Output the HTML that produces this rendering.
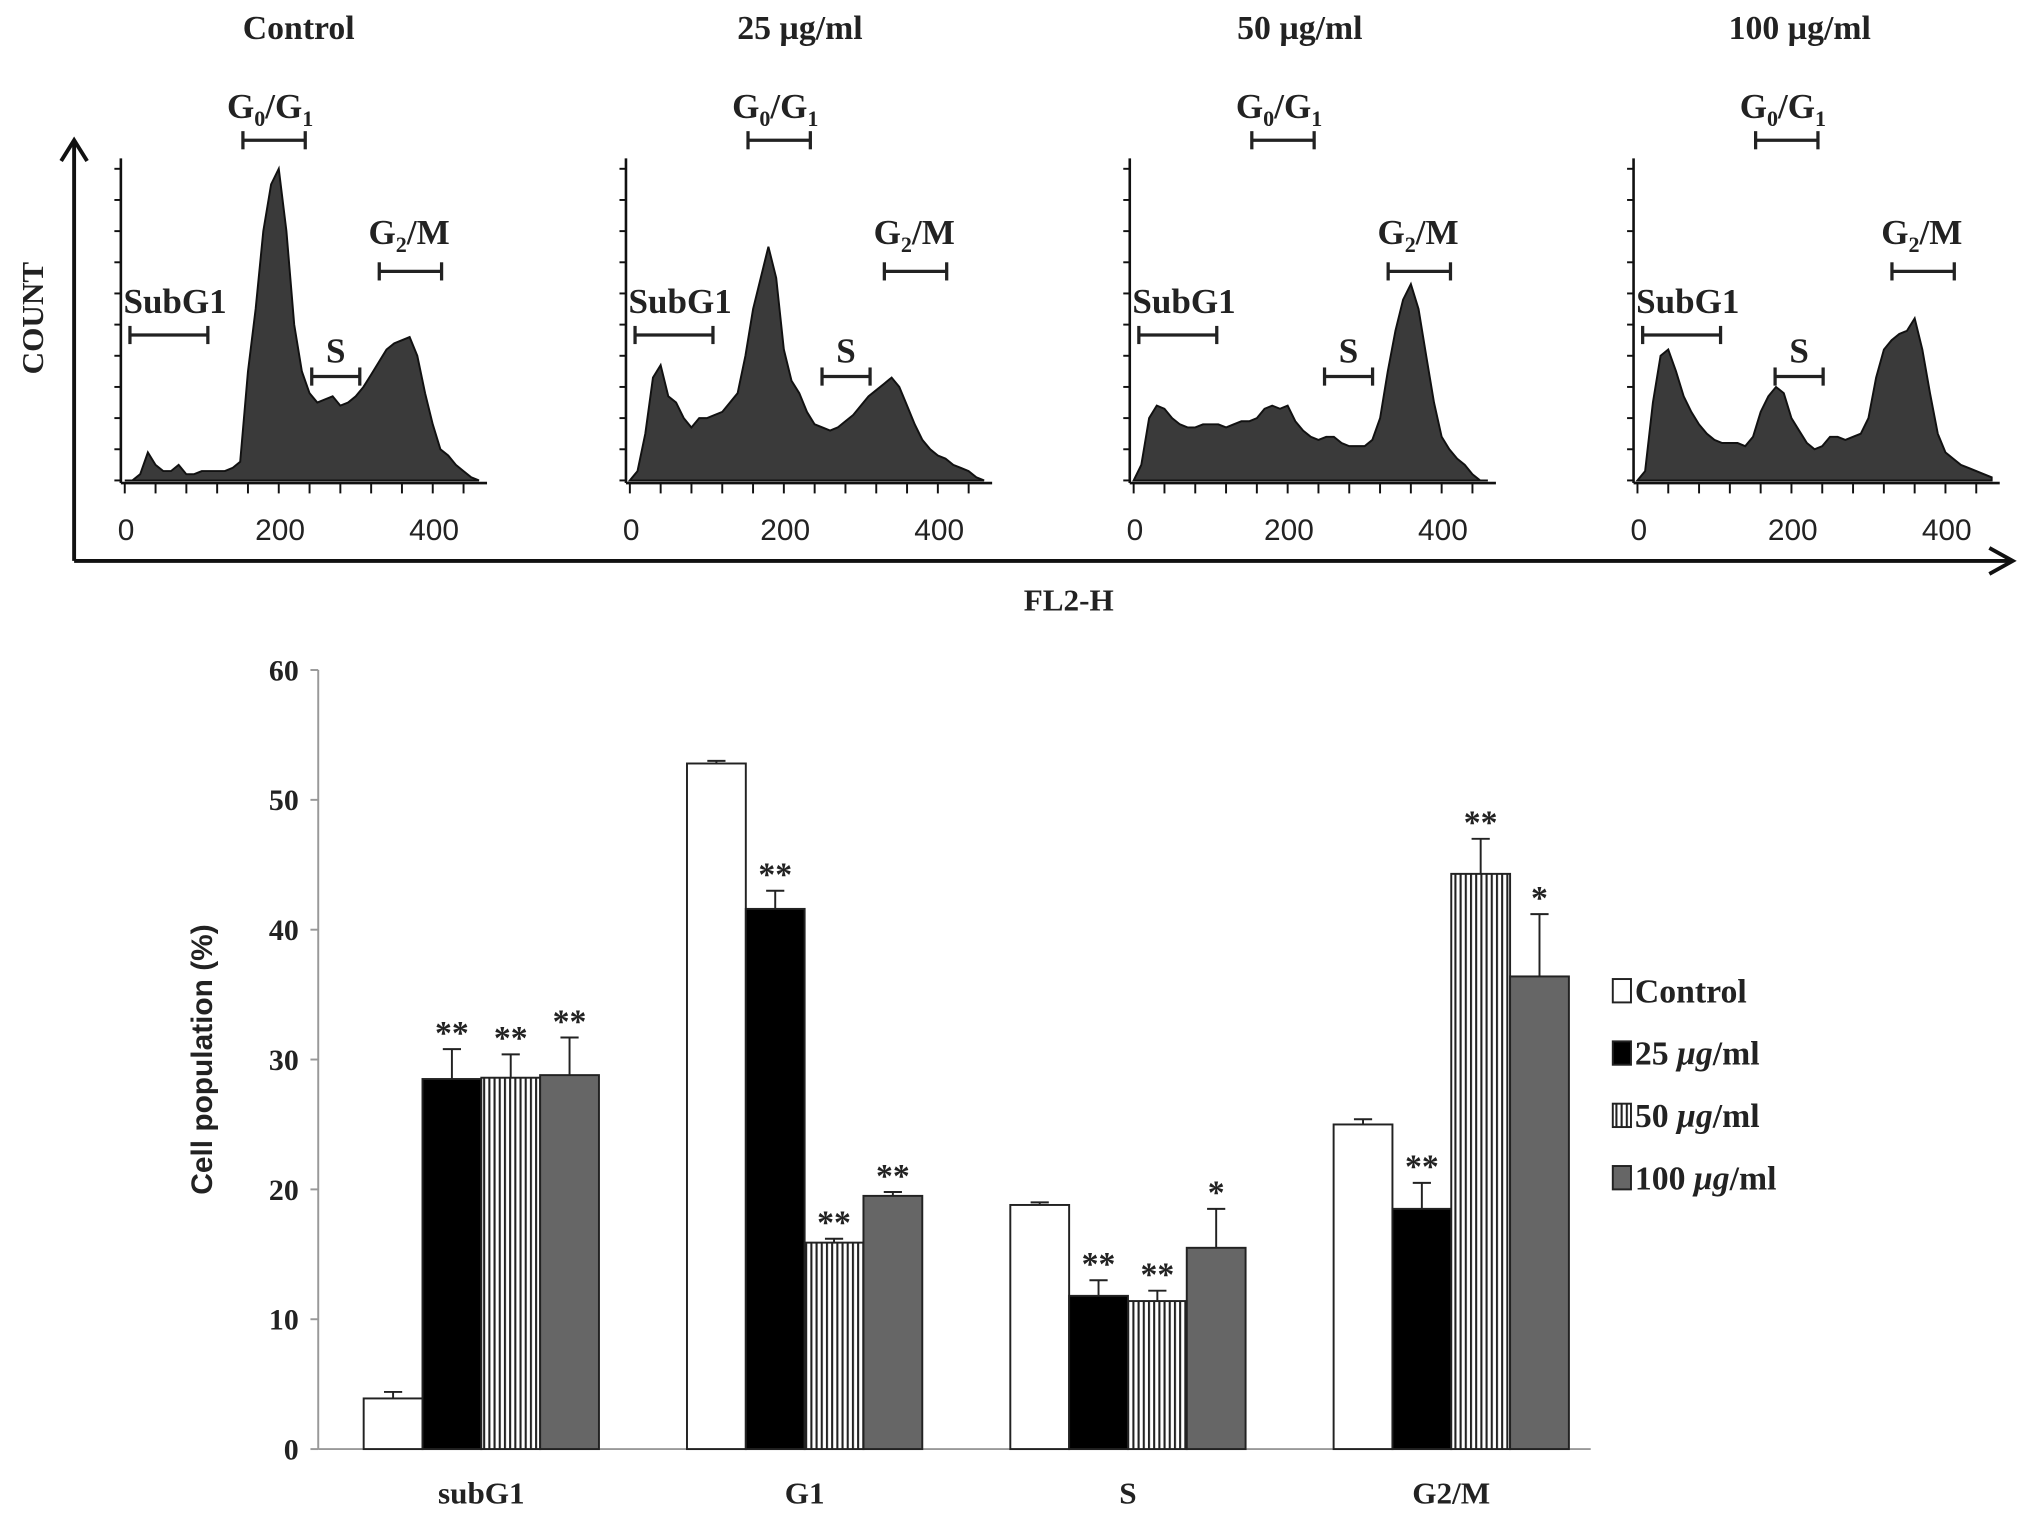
<!DOCTYPE html>
<html><head><meta charset="utf-8"><style>
html,body{margin:0;padding:0;background:#fff;}
svg{display:block;}
text{font-family:"Liberation Serif",serif;font-weight:bold;fill:#222;}
.sans{font-family:"Liberation Sans",sans-serif;}
</style></head><body>
<svg id="fig" width="2031" height="1514" viewBox="0 0 1564 1166" xmlns="http://www.w3.org/2000/svg"></svg>
<script>
// ---- histogram data (FL2-H bins every 10 units, 0..460; height as % of panel) ----
const binStart = 0, binStep = 10;
const panelTitles = ["Control", "25 µg/ml", "50 µg/ml", "100 µg/ml"];
const histControl = [0,0,2,9,5,3,3,5,2,2,3,3,3,3,4,6,35,55,80,95,100,80,50,35,28,25,26,27,24,25,27,30,34,38,42,44,45,46,40,28,18,10,8,5,3,1,0];
const hist25 = [0,3,15,33,37,27,25,20,17,20,20,21,22,25,28,40,55,65,75,65,42,32,28,22,18,17,16,17,19,21,24,27,29,31,33,30,24,18,13,10,8,7,5,4,3,1,0];
const hist50 = [0,5,20,24,23,20,18,17,17,18,18,18,17,18,19,19,20,23,24,23,24,19,16,14,13,14,14,12,11,11,11,13,20,35,48,58,63,55,40,25,14,10,7,5,2,0,0];
const hist100 = [0,3,25,40,42,35,27,22,18,15,13,12,12,12,11,14,22,27,30,28,20,16,12,10,11,14,14,13,14,15,20,33,42,45,47,48,52,42,28,15,9,7,5,4,3,2,1];
const histTicks = [0, 200, 400];
// ---- bar chart data ----
const phases = ["subG1", "G1", "S", "G2/M"];
const seriesNames = ["Control", "25 μg/ml", "50 μg/ml", "100 μg/ml"];
const valControl = [3.9, 52.8, 18.8, 25.0];
const val25 = [28.5, 41.6, 11.8, 18.5];
const val50 = [28.6, 15.9, 11.4, 44.3];
const val100 = [28.8, 19.5, 15.5, 36.4];
const errControl = [0.5, 0.2, 0.2, 0.4];
const err25 = [2.3, 1.4, 1.2, 2.0];
const err50 = [1.8, 0.3, 0.8, 2.7];
const err100 = [2.9, 0.3, 3.0, 4.8];
const sig25 = ["**", "**", "**", "**"];
const sig50 = ["**", "**", "**", "**"];
const sig100 = ["**", "**", "*", "*"];
const yTicks = [0, 10, 20, 30, 40, 50, 60];

const NS = "http://www.w3.org/2000/svg";
const svg = document.getElementById("fig");
function mk(tag, attrs, parent, txt) {
  const e = document.createElementNS(NS, tag);
  for (const k in attrs) e.setAttribute(k, attrs[k]);
  if (txt !== undefined) e.textContent = txt;
  (parent || svg).appendChild(e);
  return e;
}
const defs = mk("defs", {});
const pat = mk("pattern", {id: "vstripe", width: 4, height: 10, patternUnits: "userSpaceOnUse"}, defs);
mk("rect", {width: 4, height: 10, fill: "#fff"}, pat);
mk("rect", {x: 0, width: 1.6, height: 10, fill: "#222"}, pat);

// ===== Top: histograms =====
const big = mk("g", {});


mk("line", {x1: 57, y1: 110, x2: 57, y2: 432, stroke: "#111", "stroke-width": 3}, big);
mk("polyline", {points: "47,124 57,108 67,124", fill: "none", stroke: "#111", "stroke-width": 3}, big);
mk("line", {x1: 57, y1: 432, x2: 1548, y2: 432, stroke: "#111", "stroke-width": 3}, big);
mk("polyline", {points: "1532,422 1550,432 1532,442", fill: "none", stroke: "#111", "stroke-width": 3}, big);
const ct = mk("text", {x: 0, y: 0, "font-size": 24, "text-anchor": "middle", transform: "translate(33,245) rotate(-90)"}, svg, "COUNT");


const fl = mk("text", {x: 823, y: 470, "font-size": 24, "text-anchor": "middle"}, svg, "FL2-H");



const hists = [histControl, hist25, hist50, hist100];
const offsets = [0, 389, 777, 1165];
const sRel = [[240, 277], [244, 281], [243, 280], [202, 239]];
const baseY = 370, hScale = 2.4;
function hx(v, ox) { return 96 + ox + v * 0.593; }
function hy(p) { return baseY - p * hScale; }
function bracket(g, x1, x2, y) {
  mk("line", {x1: x1, y1: y, x2: x2, y2: y, stroke: "#222", "stroke-width": 2.5}, g);
  mk("line", {x1: x1, y1: y - 7, x2: x1, y2: y + 7, stroke: "#222", "stroke-width": 2.5}, g);
  mk("line", {x1: x2, y1: y - 7, x2: x2, y2: y + 7, stroke: "#222", "stroke-width": 2.5}, g);
}
hists.forEach((h, i) => {
  const ox = offsets[i];
  const g = mk("g", {});
  
  
  const t = mk("text", {x: 230 + ox - (i === 0 ? 0 : i * 3), y: 30, "font-size": 26, "text-anchor": "middle"}, g, panelTitles[i]);
  
  
  mk("line", {x1: 93 + ox, y1: 122, x2: 93 + ox, y2: 372, stroke: "#111", "stroke-width": 2}, g);
  mk("line", {x1: 93 + ox, y1: 372, x2: 375 + ox, y2: 372, stroke: "#111", "stroke-width": 2}, g);
  for (let k = 0; k <= 10; k++) {
    const yy = 130 + k * 24;
    mk("line", {x1: 88 + ox, y1: yy, x2: 93 + ox, y2: yy, stroke: "#111", "stroke-width": 1.5}, g);
  }
  for (let v = 0; v <= 460; v += 40) {
    mk("line", {x1: hx(v, ox), y1: 372, x2: hx(v, ox), y2: 380, stroke: "#111", "stroke-width": 1.5}, g);
  }
  histTicks.forEach(v => {
    const tl = mk("text", {x: hx(v, ox) + 1, y: 416, "font-size": 23, "text-anchor": "middle", class: "sans", style: "font-weight:normal"}, g, String(v));
    
    
  });
  let d = "M" + hx(binStart, ox) + "," + baseY;
  h.forEach((p, j) => {
    const v = binStart + j * binStep;
    d += " L" + hx(v, ox).toFixed(1) + "," + hy(p).toFixed(1);
  });
  d += " L" + hx(binStart + (h.length - 1) * binStep, ox) + "," + baseY + " Z";
  const area = mk("path", {d: d, fill: "#3a3a3a", stroke: "#111", "stroke-width": 1.5}, g);
  
  
  bracket(g, 187 + ox, 235 + ox, 108);
  const l1 = mk("text", {x: 208 + ox, y: 91, "font-size": 27, "text-anchor": "middle"}, g);
  mk("tspan", {}, l1, "G");
  mk("tspan", {"font-size": 17, dy: 6}, l1, "0");
  mk("tspan", {dy: -6}, l1, "/G");
  mk("tspan", {"font-size": 17, dy: 6}, l1, "1");
  
  
  bracket(g, 292 + ox, 340 + ox, 209);
  const l2 = mk("text", {x: 315 + ox, y: 188, "font-size": 27, "text-anchor": "middle"}, g);
  mk("tspan", {}, l2, "G");
  mk("tspan", {"font-size": 17, dy: 6}, l2, "2");
  mk("tspan", {dy: -6}, l2, "/M");
  
  
  bracket(g, 100 + ox, 160 + ox, 258);
  const l3 = mk("text", {x: 95 + ox, y: 241, "font-size": 27}, g, "SubG1");
  
  
  bracket(g, sRel[i][0] + ox, sRel[i][1] + ox, 290);
  const l4 = mk("text", {x: (sRel[i][0] + sRel[i][1]) / 2 + ox, y: 279, "font-size": 27, "text-anchor": "middle"}, g, "S");
  
  
});

// ===== Bottom: bar chart =====
const y0 = 1116, pxPerUnit = 10;
function by(v) { return y0 - v * pxPerUnit; }
const groupStart = 280, groupStep = 249, barW = 45.3;
function bx(gi, si) { return groupStart + gi * groupStep + si * barW; }
const bc = mk("g", {});


mk("line", {x1: 245, y1: by(60), x2: 245, y2: y0, stroke: "#999", "stroke-width": 1.5}, bc);
mk("line", {x1: 245, y1: y0, x2: 1225, y2: y0, stroke: "#999", "stroke-width": 1.5}, bc);
yTicks.forEach(v => {
  mk("line", {x1: 239, y1: by(v), x2: 245, y2: by(v), stroke: "#999", "stroke-width": 1.5}, bc);
  const t = mk("text", {x: 230, y: by(v) + 8, "font-size": 23, "text-anchor": "end"}, bc, String(v));
  
  
});
const yt = mk("text", {x: 0, y: 0, "font-size": 23, "text-anchor": "middle", class: "sans", transform: "translate(163,816) rotate(-90)"}, bc, "Cell population (%)");


phases.forEach((p, gi) => {
  const t = mk("text", {x: groupStart + gi * groupStep + 2 * barW, y: 1158, "font-size": 24, "text-anchor": "middle"}, bc, p);
  
  
});
const vals = [valControl, val25, val50, val100];
const errs = [errControl, err25, err50, err100];
const sigs = [null, sig25, sig50, sig100];
const fills = ["#fff", "#000", "url(#vstripe)", "#666"];
vals.forEach((arr, si) => {
  arr.forEach((v, gi) => {
    const x = bx(gi, si);
    const r = mk("rect", {x: x, y: by(v), width: barW, height: y0 - by(v), fill: fills[si], stroke: "#222", "stroke-width": 1.5}, bc);
    
    
    const cx = x + barW / 2, top = by(v + errs[si][gi]);
    mk("line", {x1: cx, y1: by(v), x2: cx, y2: top, stroke: "#222", "stroke-width": 1.5}, bc);
    mk("line", {x1: cx - 7, y1: top, x2: cx + 7, y2: top, stroke: "#222", "stroke-width": 1.5}, bc);
    if (sigs[si]) {
      const s = mk("text", {x: cx, y: top - 4, "font-size": 26, "text-anchor": "middle"}, bc, sigs[si][gi]);
      
      
    }
  });
});
seriesNames.forEach((n, si) => {
  const g = mk("g", {});
  
  
  const ly = 763 + si * 48;
  mk("rect", {x: 1242, y: ly - 9, width: 14, height: 18, fill: fills[si], stroke: "#222", "stroke-width": 1.5}, g);
  const t = mk("text", {x: 1259, y: ly + 9, "font-size": 26}, g);
  const parts = n.split("μg");
  if (parts.length > 1) {
    mk("tspan", {}, t, parts[0]);
    mk("tspan", {"font-style": "italic"}, t, "μg");
    mk("tspan", {}, t, parts[1]);
  } else t.textContent = n;
});
</script>
</body></html>
